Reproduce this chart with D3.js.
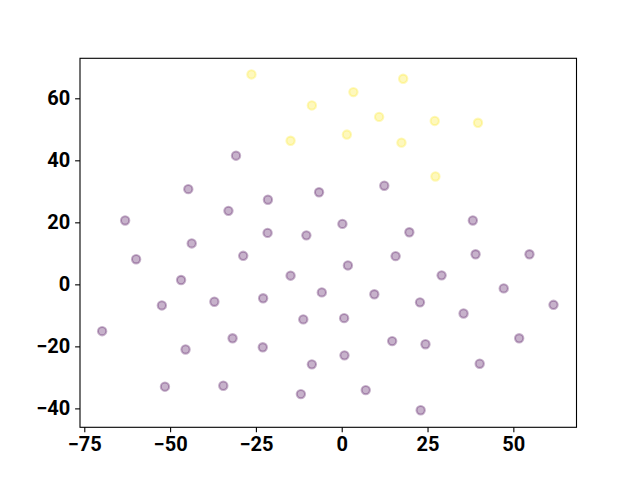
<!DOCTYPE html>
<html>
<head>
<meta charset="utf-8">
<script src="https://cdn.jsdelivr.net/npm/d3@7"></script>
<style>
  html, body { margin: 0; padding: 0; background: #fff; }
  svg { display: block; }
</style>
</head>
<body>
<svg id="chart" width="640" height="480"></svg>
<script>
// Group 0 (purple) points
const purpleX = [-30.8, -44.7, -6.6, -21.5, -33.0, -63.1, -21.6, -10.3, -43.7, -28.7, -59.9,
  12.4, 0.2, 38.2, 19.7, 15.7, 39.0, 54.7, 1.8,
  -46.8, -14.9, -5.8, -52.4, -37.1, -22.9, -69.8, -11.2, -31.8, -45.5, -23.0, -8.7, -51.5, -34.5, -11.9,
  29.1, 9.5, 22.8, 47.2, 61.7, 35.5, 0.7, 14.7, 24.4, 51.7, 0.8, 40.2, 7.0, 23.0];
const purpleY = [41.5, 30.7, 29.7, 27.3, 23.7, 20.6, 16.6, 15.8, 13.2, 9.2, 8.1,
  31.8, 19.5, 20.6, 16.8, 9.1, 9.7, 9.7, 6.1,
  1.4, 2.8, -2.6, -6.8, -5.6, -4.5, -15.1, -11.3, -17.4, -21.0, -20.3, -25.8, -33.0, -32.7, -35.4,
  2.9, -3.2, -5.8, -1.3, -6.6, -9.4, -10.9, -18.3, -19.3, -17.4, -22.9, -25.6, -34.1, -40.6];
// Group 1 (yellow) points
const yellowX = [-26.3, -8.7, -14.9, 17.9, 3.4, 10.9, 27.1, 39.7, 1.5, 17.4, 27.3];
const yellowY = [67.7, 57.7, 46.3, 66.3, 62.0, 54.0, 52.7, 52.1, 48.3, 45.7, 34.8];

const xTicks = [-75, -50, -25, 0, 25, 50];
const yTicks = [-40, -20, 0, 20, 40, 60];

const svg = d3.select("#chart");
const mL = 80, mR = 576.5, mT = 58.3, mB = 427.3;

const x = d3.scaleLinear().domain([-76.25, 68.4]).range([mL, mR]);
const y = d3.scaleLinear().domain([-46.1, 72.9]).range([mB, mT]);

const points = [];
purpleX.forEach((v, i) => points.push({x: v, y: purpleY[i], c: "#440154"}));
yellowX.forEach((v, i) => points.push({x: v, y: yellowY[i], c: "#fde725"}));

svg.append("g").selectAll("circle").data(points).join("circle")
  .attr("cx", d => x(d.x))
  .attr("cy", d => y(d.y))
  .attr("r", 4.17)
  .attr("fill", d => d.c)
  .attr("fill-opacity", 0.3)
  .attr("stroke", d => d.c)
  .attr("stroke-opacity", 0.3)
  .attr("stroke-width", 2.08);

const fontFam = "Roboto, 'Liberation Sans', Arial, sans-serif";

const xAxis = svg.append("g")
  .attr("transform", `translate(0,${mB})`)
  .call(d3.axisBottom(x).tickValues(xTicks).tickSize(4.9).tickPadding(4.9)
    .tickFormat(d => d < 0 ? "\u2212" + Math.abs(d) : String(d)));
const yAxis = svg.append("g")
  .attr("transform", `translate(${mL},0)`)
  .call(d3.axisLeft(y).tickValues(yTicks).tickSize(4.9).tickPadding(4.9)
    .tickFormat(d => d < 0 ? "\u2212" + Math.abs(d) : String(d)));

[xAxis, yAxis].forEach(a => {
  a.select(".domain").remove();
  a.selectAll(".tick line").attr("stroke", "#000").attr("stroke-width", 1.1);
  a.selectAll(".tick text")
    .attr("fill", "#000")
    .style("font-family", fontFam)
    .style("font-weight", "bold")
    .style("font-size", "20px");
});

svg.append("rect")
  .attr("x", mL).attr("y", mT)
  .attr("width", mR - mL).attr("height", mB - mT)
  .attr("fill", "none").attr("stroke", "#000").attr("stroke-width", 1.1);
</script>
</body>
</html>
